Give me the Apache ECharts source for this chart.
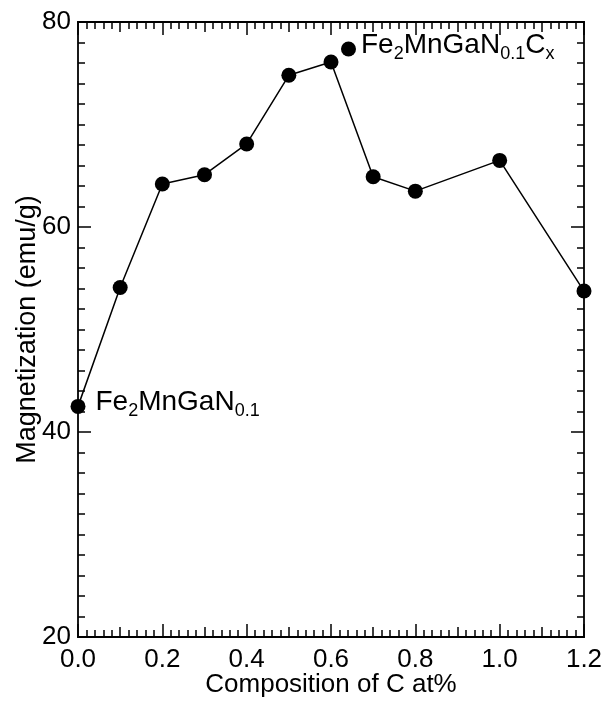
<!DOCTYPE html>
<html>
<head>
<meta charset="utf-8">
<script src="https://cdn.jsdelivr.net/npm/echarts@6/dist/echarts.min.js"></script>
<style>html,body{margin:0;padding:0;background:#fff;}#c{width:611px;height:702px;}</style>
</head>
<body>
<div id="c"></div>
<script>
const composition = [0.0, 0.1, 0.2, 0.3, 0.4, 0.5, 0.6, 0.7, 0.8, 1.0, 1.2];
const magnetization = [42.5, 54.1, 64.2, 65.1, 68.1, 74.8, 76.1, 64.9, 63.5, 66.5, 53.75];
const xTicks = [0.0, 0.2, 0.4, 0.6, 0.8, 1.0, 1.2];
const yTicks = [20, 40, 60, 80];
const seriesName = 'Fe2MnGaN0.1Cx';

const FONT = 'Liberation Sans, Arial, Helvetica, sans-serif';
const black = '#000';
const chart = echarts.init(document.getElementById('c'), null, {renderer: 'canvas'});

const xMin = xTicks[0], xMax = xTicks[xTicks.length - 1];
const yMin = yTicks[0], yMax = yTicks[yTicks.length - 1];

function xAxisDef(pos, interval, tickLen, minor, labels) {
  return {
    type: 'value', position: pos, min: xMin, max: xMax, interval: interval,
    axisLine: {show: true, onZero: false, lineStyle: {color: black, width: 1.8}},
    axisTick: {show: true, inside: true, length: tickLen, lineStyle: {color: black, width: 1.5}},
    minorTick: {show: minor, splitNumber: 10, length: 7, lineStyle: {color: black, width: 1.5}},
    splitLine: {show: false}, minorSplitLine: {show: false},
    axisLabel: labels ? {show: true, margin: 10, fontSize: 26, color: black, fontFamily: FONT,
      formatter: v => v.toFixed(1)} : {show: false},
    name: labels ? 'Composition of C at%' : '',
    nameLocation: 'middle', nameGap: 35, nameMoveOverlap: false,
    nameTextStyle: {fontSize: 26, color: black, fontFamily: FONT}
  };
}
function yAxisDef(pos, labels) {
  return {
    type: 'value', position: pos, min: yMin, max: yMax, interval: 20,
    axisLine: {show: true, onZero: false, lineStyle: {color: black, width: 1.8}},
    axisTick: {show: true, inside: true, length: 13, lineStyle: {color: black, width: 1.5}},
    minorTick: {show: true, splitNumber: 10, length: 7, lineStyle: {color: black, width: 1.5}},
    splitLine: {show: false}, minorSplitLine: {show: false},
    axisLabel: labels ? {show: true, margin: 7, fontSize: 26, color: black, fontFamily: FONT} : {show: false},
    name: labels ? 'Magnetization (emu/g)' : '',
    nameLocation: 'middle', nameGap: 37, nameRotate: 90, nameMoveOverlap: false,
    nameTextStyle: {fontSize: 27, color: black, fontFamily: FONT}
  };
}

const richText = {
  m: {fontSize: 28, color: black, fontFamily: FONT, verticalAlign: 'bottom', lineHeight: 28, padding: [0, 0, 4, 0]},
  s: {fontSize: 18, color: black, fontFamily: FONT, verticalAlign: 'bottom', lineHeight: 18}
};

const data = composition.map((c, i) => {
  const d = {value: [c, magnetization[i]]};
  if (i === 0) {
    d.label = {show: true, position: 'right', distance: 10,
      formatter: '{m|Fe}{s|2}{m|MnGaN}{s|0.1}', rich: richText};
  }
  return d;
});

chart.setOption({
  animation: false,
  backgroundColor: '#fff',
  grid: {left: 78, right: 27, top: 22, bottom: 65, containLabel: false, outerBoundsMode: 'none'},
  legend: {
    show: true, left: 336, top: 26, padding: 5, icon: 'circle', itemWidth: 15, itemHeight: 15,
    data: [seriesName],
    formatter: () => '{m|Fe}{s|2}{m|MnGaN}{s|0.1}{m|C}{s|x}',
    textStyle: {rich: richText, color: black}
  },
  xAxis: [
    xAxisDef('bottom', 0.2, 13, true, true),
    xAxisDef('bottom', 0.1, 10, false, false),
    xAxisDef('top', 0.2, 13, true, false),
    xAxisDef('top', 0.1, 10, false, false)
  ],
  yAxis: [yAxisDef('left', true), yAxisDef('right', false)],
  series: [{
    name: seriesName, type: 'line', xAxisIndex: 0, yAxisIndex: 0,
    data: data, symbol: 'circle', symbolSize: 15,
    itemStyle: {color: black}, lineStyle: {color: black, width: 1.5},
    clip: false
  }]
});
</script>
</body>
</html>
